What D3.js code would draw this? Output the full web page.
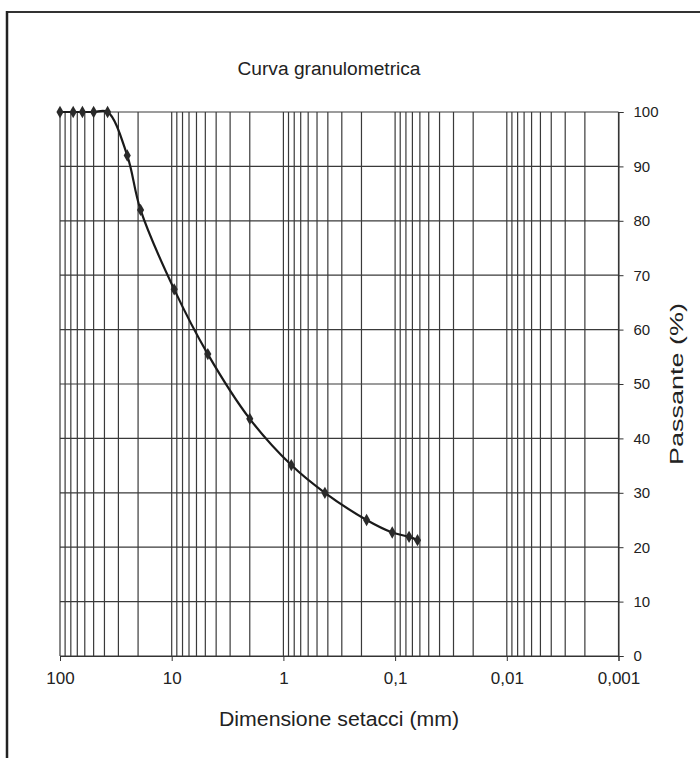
<!DOCTYPE html>
<html><head><meta charset="utf-8">
<script src="https://cdn.jsdelivr.net/npm/d3@7"></script>
<style>body{margin:0;background:#fff}svg{display:block}text{font-family:"Liberation Sans",Arial,sans-serif;fill:#222}</style>
</head><body><div id="chart"></div>
<script>
const title = "Curva granulometrica";
const xTitle = "Dimensione setacci (mm)";
const yTitle = "Passante (%)";
const sieveSizes = [100, 76.2, 63, 50, 37.5, 25, 19, 9.5, 4.75, 2, 0.85, 0.425, 0.18, 0.106, 0.075, 0.063];
const passing =    [100, 100, 100, 100, 100, 92, 82, 67.4, 55.5, 43.6, 35.1, 30, 25, 22.7, 21.9, 21.3];
const xTicks = [100, 10, 1, 0.1, 0.01, 0.001];
const xTickLabels = ["100", "10", "1", "0,1", "0,01", "0,001"];
const yTicks = [0, 10, 20, 30, 40, 50, 60, 70, 80, 90, 100];

const W = 700, H = 758;
const svg = d3.select("#chart").append("svg").attr("width", W).attr("height", H);

// frame
svg.append("line").attr("x1", 6).attr("x2", 700).attr("y1", 12).attr("y2", 12).attr("stroke", "#333").attr("stroke-width", 2);
svg.append("line").attr("x1", 7).attr("x2", 7).attr("y1", 11).attr("y2", 758).attr("stroke", "#222").attr("stroke-width", 2.5);

const x = d3.scaleLog().domain([100, 0.001]).range([60, 618.5]);
const y = d3.scaleLinear().domain([0, 100]).range([656, 112]);

const gridVals = [];
for (let e = -3; e < 2; e++) for (let m = 1; m < 10; m++) gridVals.push(m * Math.pow(10, e));
gridVals.push(100);

const g = svg.append("g");
g.selectAll("line.vg").data(gridVals).join("line").attr("class", "vg")
  .attr("x1", d => x(d)).attr("x2", d => x(d)).attr("y1", y(100)).attr("y2", y(0))
  .attr("stroke", "#3a3a3a").attr("stroke-width", 1.2);
g.selectAll("line.hg").data(yTicks).join("line").attr("class", "hg")
  .attr("x1", x(100)).attr("x2", x(0.001)).attr("y1", d => y(d)).attr("y2", d => y(d))
  .attr("stroke", "#3a3a3a").attr("stroke-width", 1.2);

// bottom axis
const xAxis = d3.axisBottom(x).tickValues(xTicks).tickFormat((d, i) => xTickLabels[i]).tickSize(5).tickPadding(11);
const xa = svg.append("g").attr("transform", `translate(0,${y(0)})`).call(xAxis);
xa.select(".domain").attr("stroke", "#333");
xa.selectAll(".tick line").attr("stroke", "#333");
xa.selectAll("text").attr("font-size", 17).attr("font-family", "Liberation Sans, Arial, sans-serif").attr("fill", "#222");

// right axis
const yAxis = d3.axisRight(y).tickValues(yTicks).tickSize(5).tickPadding(10);
const ya = svg.append("g").attr("transform", `translate(${x(0.001)},0)`).call(yAxis);
ya.select(".domain").attr("stroke", "#333");
ya.selectAll(".tick line").attr("stroke", "#333");
ya.selectAll("text").attr("font-size", 15).attr("font-family", "Liberation Sans, Arial, sans-serif").attr("fill", "#222");

// curve
const pts = sieveSizes.map((d, i) => [d, passing[i]]);
const line = d3.line().x(d => x(d[0])).y(d => y(d[1])).curve(d3.curveCatmullRom.alpha(0.5));
svg.append("path").datum(pts).attr("d", line).attr("fill", "none").attr("stroke", "#1a1a1a").attr("stroke-width", 2.2);

svg.selectAll("path.mk").data(pts).join("path").attr("class", "mk")
  .attr("d", d3.symbol(d3.symbolDiamond, 44))
  .attr("transform", d => `translate(${x(d[0])},${y(d[1])})`)
  .attr("fill", "#2a2a2a");

// titles
svg.append("text").attr("x", 329).attr("y", 75).attr("text-anchor", "middle").attr("font-size", 18)
  .attr("textLength", 183).attr("lengthAdjust", "spacingAndGlyphs").text(title);
svg.append("text").attr("x", 339).attr("y", 726).attr("text-anchor", "middle").attr("font-size", 20)
  .attr("textLength", 240).attr("lengthAdjust", "spacingAndGlyphs").text(xTitle);
svg.append("text").attr("transform", "translate(683,384) rotate(-90)").attr("text-anchor", "middle").attr("font-size", 19)
  .attr("textLength", 162).attr("lengthAdjust", "spacingAndGlyphs").text(yTitle);
</script></body></html>
